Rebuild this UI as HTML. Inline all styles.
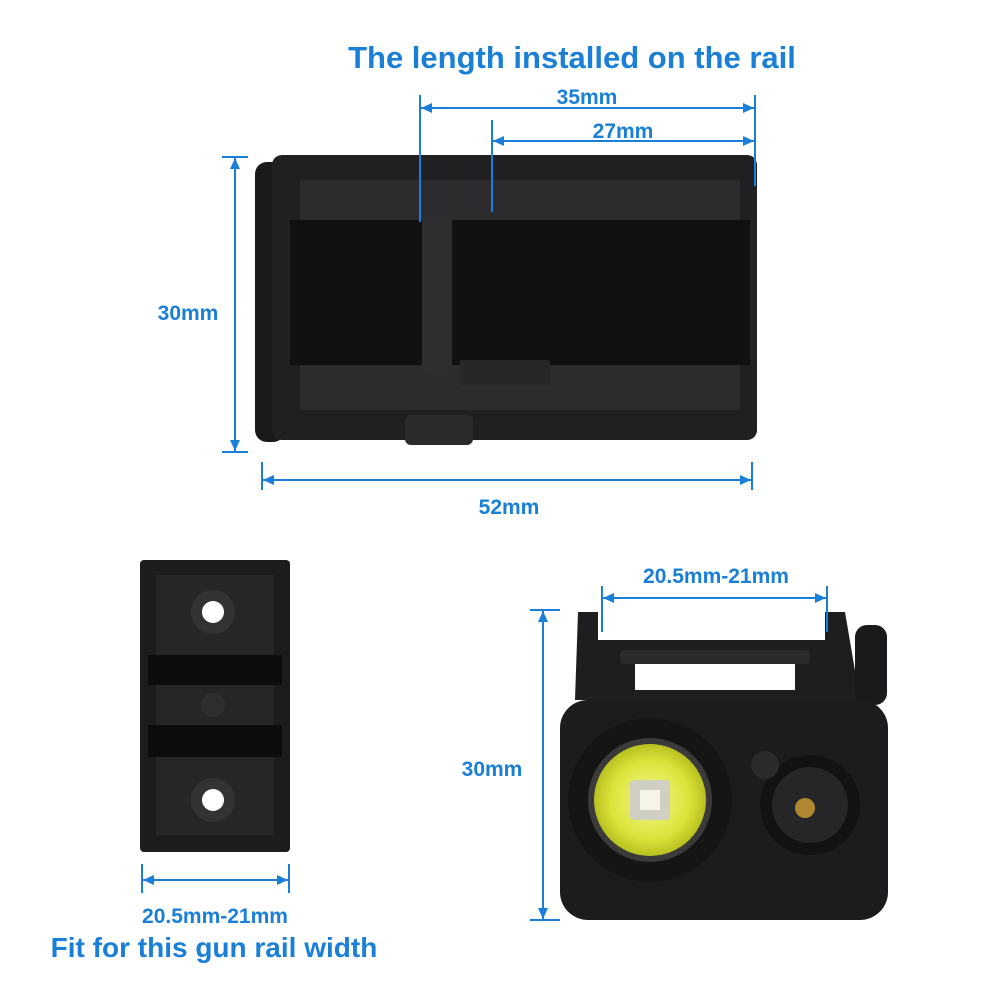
<!DOCTYPE html>
<html><head><meta charset="utf-8"><style>
html,body{margin:0;padding:0;background:#fff;}
svg{display:block;}
text{font-family:"Liberation Sans",sans-serif;font-weight:bold;fill:#1a7fd8;}
</style></head><body>
<svg width="1001" height="1001" viewBox="0 0 1001 1001" xmlns="http://www.w3.org/2000/svg">
<defs>
<marker id="a" markerWidth="11" markerHeight="10" refX="11" refY="5" orient="auto-start-reverse" markerUnits="userSpaceOnUse">
<path d="M0,0 L11,5 L0,10 Z" fill="#1a7fd8"/></marker>
<radialGradient id="y" cx="50%" cy="50%" r="50%"><stop offset="0" stop-color="#f2f78a"/><stop offset="0.7" stop-color="#dbe43a"/><stop offset="1" stop-color="#b8c020"/></radialGradient>
</defs>

<text x="572" y="68" font-size="31" text-anchor="middle">The length installed on the rail</text>

<rect x="255" y="162" width="30" height="280" rx="12" fill="#1a1a1c"/>
<rect x="272" y="155" width="485" height="285" rx="10" fill="#202022"/>
<rect x="290" y="220" width="460" height="145" fill="#111113"/>
<path d="M300 180 L740 180 L740 220 L300 220 Z" fill="#2c2c2f"/>
<path d="M300 365 L740 365 L740 410 L300 410 Z" fill="#2c2c2f"/>
<rect x="422" y="215" width="30" height="160" rx="5" fill="#2e2e30"/>
<rect x="405" y="415" width="68" height="30" rx="6" fill="#2a2a2c"/>
<rect x="460" y="360" width="90" height="25" fill="#262628"/>

<g stroke="#1a7fd8" stroke-width="2" fill="none">
<line x1="420" y1="95" x2="420" y2="222"/>
<line x1="492" y1="120" x2="492" y2="212"/>
<line x1="755" y1="95" x2="755" y2="186"/>
<line x1="421" y1="108" x2="754" y2="108" marker-start="url(#a)" marker-end="url(#a)"/>
<line x1="493" y1="141" x2="754" y2="141" marker-start="url(#a)" marker-end="url(#a)"/>
<line x1="222" y1="157" x2="248" y2="157"/>
<line x1="222" y1="452" x2="248" y2="452"/>
<line x1="235" y1="158" x2="235" y2="451" marker-start="url(#a)" marker-end="url(#a)"/>
<line x1="262" y1="462" x2="262" y2="490"/>
<line x1="752" y1="462" x2="752" y2="490"/>
<line x1="263" y1="480" x2="751" y2="480" marker-start="url(#a)" marker-end="url(#a)"/>
</g>
<text x="587" y="104" font-size="21" text-anchor="middle">35mm</text>
<text x="623" y="138" font-size="21" text-anchor="middle">27mm</text>
<text x="188" y="320" font-size="21" text-anchor="middle">30mm</text>
<text x="509" y="514" font-size="21" text-anchor="middle">52mm</text>

<rect x="140" y="560" width="150" height="292" rx="4" fill="#1c1c1e"/>
<rect x="156" y="575" width="118" height="260" fill="#262628"/>
<rect x="148" y="655" width="134" height="30" fill="#0c0c0d"/>
<rect x="148" y="725" width="134" height="32" fill="#0c0c0d"/>
<circle cx="213" cy="612" r="22" fill="#333"/><circle cx="213" cy="612" r="11" fill="#fff"/>
<circle cx="213" cy="800" r="22" fill="#333"/><circle cx="213" cy="800" r="11" fill="#fff"/>
<circle cx="213" cy="705" r="12" fill="#2e2e30"/>
<g stroke="#1a7fd8" stroke-width="2" fill="none">
<line x1="142" y1="864" x2="142" y2="893"/>
<line x1="289" y1="864" x2="289" y2="893"/>
<line x1="143" y1="880" x2="288" y2="880" marker-start="url(#a)" marker-end="url(#a)"/>
</g>
<text x="215" y="923" font-size="21" text-anchor="middle">20.5mm-21mm</text>
<text x="214" y="957" font-size="28" text-anchor="middle">Fit for this gun rail width</text>

<path d="M578 612 L598 612 L598 640 L825 640 L825 612 L845 612 L860 700 L575 700 Z" fill="#1e1e20"/>
<rect x="635" y="655" width="160" height="35" fill="#fff"/>
<rect x="620" y="650" width="190" height="14" rx="4" fill="#2a2a2c"/>
<rect x="855" y="625" width="32" height="80" rx="12" fill="#1a1a1c"/>
<rect x="560" y="700" width="328" height="220" rx="28" fill="#1c1c1e"/>
<circle cx="650" cy="800" r="82" fill="#151516"/>
<circle cx="650" cy="800" r="62" fill="#3a3a3a"/>
<circle cx="650" cy="800" r="56" fill="url(#y)"/>
<rect x="630" y="780" width="40" height="40" rx="4" fill="#cfcfc4"/>
<rect x="640" y="790" width="20" height="20" fill="#f4f4e8"/>
<circle cx="810" cy="805" r="50" fill="#121213"/>
<circle cx="810" cy="805" r="38" fill="#262628"/>
<circle cx="805" cy="808" r="10" fill="#b08830"/>
<circle cx="765" cy="765" r="14" fill="#2a2a2c"/>
<g stroke="#1a7fd8" stroke-width="2" fill="none">
<line x1="602" y1="586" x2="602" y2="632"/>
<line x1="827" y1="586" x2="827" y2="632"/>
<line x1="603" y1="598" x2="826" y2="598" marker-start="url(#a)" marker-end="url(#a)"/>
<line x1="530" y1="610" x2="560" y2="610"/>
<line x1="530" y1="920" x2="560" y2="920"/>
<line x1="543" y1="611" x2="543" y2="919" marker-start="url(#a)" marker-end="url(#a)"/>
</g>
<text x="716" y="583" font-size="21" text-anchor="middle">20.5mm-21mm</text>
<text x="492" y="776" font-size="21" text-anchor="middle">30mm</text>
</svg>
</body></html>
